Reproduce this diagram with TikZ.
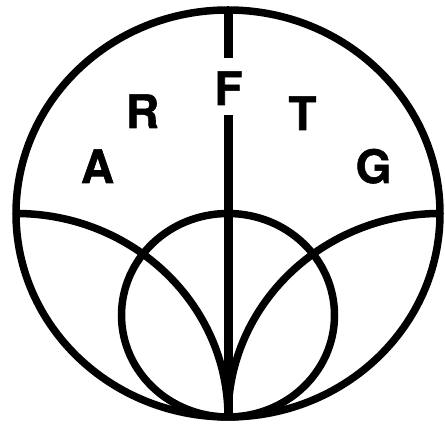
\documentclass[tikz,border=0pt]{standalone}
\usepackage{fontspec}
\setmainfont{TeX Gyre Heros}
\newfontfamily\heavyfont[FakeBold=1.2,BoldFont={TeX Gyre Heros Bold},BoldFeatures={FakeBold=1.2}]{TeX Gyre Heros}
\begin{document}
\begin{tikzpicture}[x=1pt,y=1pt,
  curve/.style={line width=7.5pt},
  axis/.style={line width=9pt},
  letter/.style={anchor=base,inner sep=0pt,font=\fontsize{46}{46}\heavyfont\bfseries}]
\useasboundingbox (0,0) rectangle (445,427);
\coordinate (C) at (228,213.5);
\coordinate (top) at (228,417);
\coordinate (bot) at (228,10);
\coordinate (L) at (16,213.5);
\coordinate (R) at (440,213.5);
\coordinate (gapT) at (228,369);
\coordinate (gapB) at (228,312);
% outer circle
\draw[curve] (C) ellipse [x radius=212, y radius=203.5];
% inner circle
\draw[curve] (228,111.75) ellipse [x radius=106.5, y radius=101.75];
% two arcs
\draw[curve] (L) arc [start angle=90, end angle=0, x radius=212, y radius=203.5];
\draw[curve] (R) arc [start angle=90, end angle=180, x radius=212, y radius=203.5];
% vertical axis
\draw[axis] (top) -- (gapT);
\draw[axis] (gapB) -- (bot);
% letters
\node[letter] (F) at (228.5,322) {F};
\node[letter] (Rl) at (142.5,299) {R};
\node[letter] (T) at (302.5,297) {T};
\node[letter] (A) at (97.5,244) {A};
\node[letter] (G) at (373.5,244) {G};
\end{tikzpicture}
\end{document}
